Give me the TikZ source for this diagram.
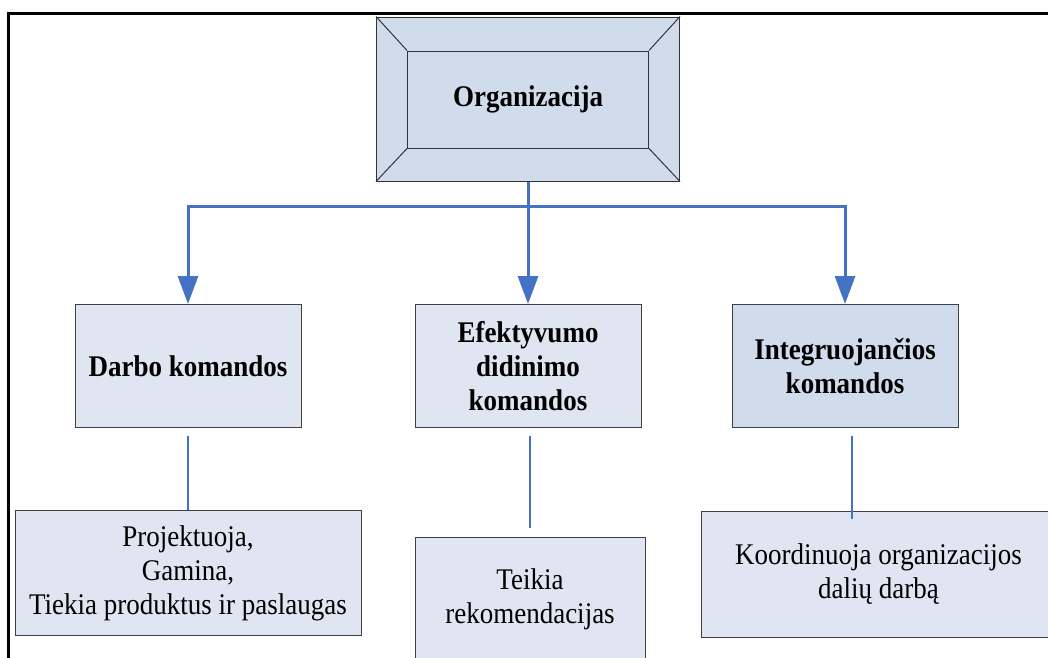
\documentclass[tikz,border=0pt]{standalone}
\usepackage{fontspec}
\setmainfont[FakeStretch=0.9]{Liberation Serif}
\usetikzlibrary{arrows.meta}
\definecolor{lightfill}{RGB}{223,230,242}
\definecolor{darkfill}{RGB}{208,220,236}
\definecolor{boxline}{RGB}{64,64,64}
\definecolor{blueline}{RGB}{68,114,196}
\tikzset{
  box/.style={draw=boxline, line width=1pt, fill=lightfill, inner sep=0pt, align=center,
    font=\fontsize{30}{34}\selectfont},
  titlebox/.style={box, font=\fontsize{30}{34}\selectfont\bfseries},
  bigarrow/.style={draw=blueline, line width=3pt, -{Triangle[width=20pt,length=28pt]}},
  thinline/.style={draw=blueline, line width=1.5pt},
  framestroke/.style={line width=3pt, black}
}
\begin{document}
\begin{tikzpicture}[x=1pt,y=-1pt]
\useasboundingbox (0,0) rectangle (1048,657);
\clip (0,0) rectangle (1048,657);
% frame
\coordinate (fbl) at (8,660);
\coordinate (ftl) at (8,13);
\coordinate (ftr) at (1050,13);
\draw[framestroke] (fbl) -- (ftl) -- (ftr);
% organizacija box
\node[titlebox, fill=darkfill, draw=black!80, minimum width=303pt, minimum height=164pt] (org) at (528,99) {};
\node[titlebox, fill=darkfill, draw=black!80, minimum width=241pt, minimum height=97pt] (orgin) at (528,99.5) {Organizacija};
\draw[black!80, line width=1pt] (org.north west) -- (orgin.north west)
  (org.north east) -- (orgin.north east)
  (org.south west) -- (orgin.south west)
  (org.south east) -- (orgin.south east);
% middle row
\node[titlebox, minimum width=226pt, minimum height=123pt] (darbo) at (188,366) {Darbo komandos};
\node[titlebox, minimum width=226pt, minimum height=123pt] (efekt) at (528,366) {Efektyvumo\\didinimo\\komandos};
\node[titlebox, fill=darkfill, minimum width=226pt, minimum height=123pt] (integ) at (845,366) {Integruojančios\\komandos};
% bottom row
\node[box, minimum width=346pt, minimum height=125pt] (proj) at (188,573) {Projektuoja,\\Gamina,\\Tiekia produktus ir paslaugas};
\node[box, minimum width=230pt, minimum height=124pt] (teik) at (530,599) {Teikia\\rekomendacijas};
\node[box, minimum width=355pt, minimum height=126pt] (koord) at (878.5,574) {Koordinuoja organizacijos\\dalių darbą};
% arrows
\coordinate (bar) at (528,206);
\draw[bigarrow] (org.south) -- (bar) -| (darbo.north);
\draw[bigarrow] (bar) -- (efekt.north);
\draw[bigarrow] (bar) -| (integ.north);
% thin lines
\draw[thinline] ([yshift=-8pt]darbo.south) -- (proj.north);
\draw[thinline] ([xshift=2pt,yshift=-8pt]efekt.south) -- ([yshift=9pt]teik.north);
\draw[thinline] ([xshift=7pt,yshift=-8pt]integ.south) -- ([xshift=7pt,yshift=-8pt]integ.south |- koord.north);
\end{tikzpicture}
\end{document}
